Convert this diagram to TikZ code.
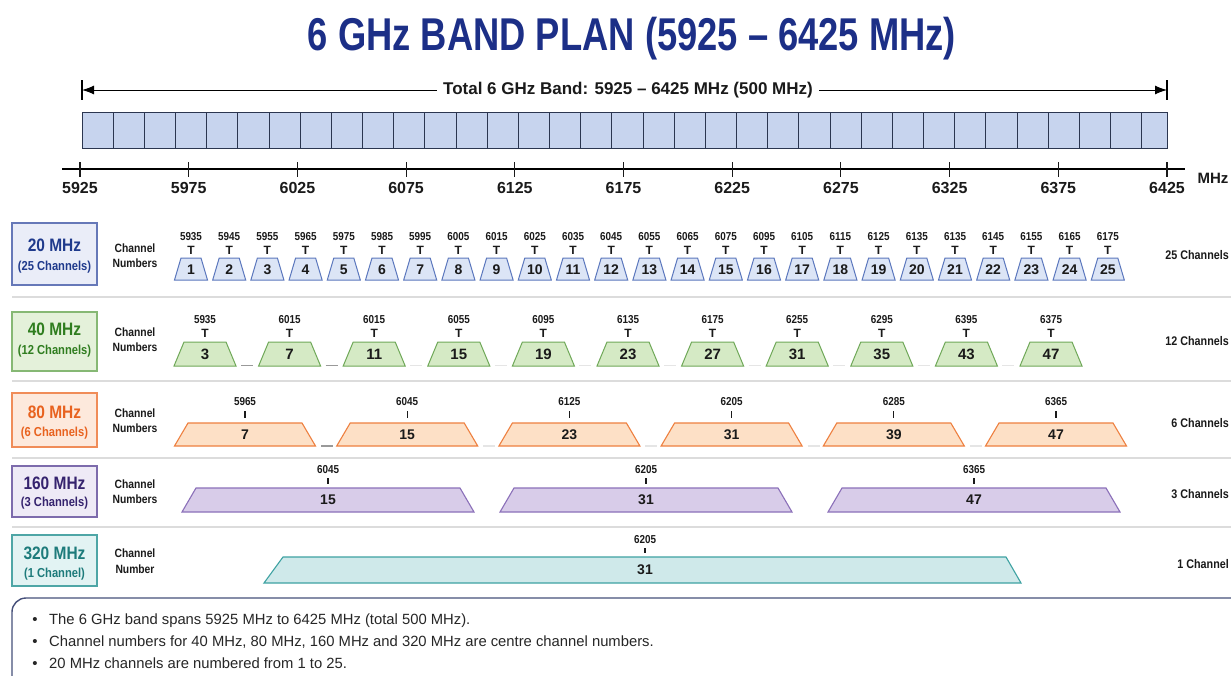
\documentclass[tikz,border=0pt]{standalone}
\usepackage{fontspec}
\setmainfont{Liberation Sans}
\newfontfamily\titlefont[FakeStretch=0.79]{Liberation Sans}
\newfontfamily\cnd[FakeStretch=0.86]{Liberation Sans}
\usetikzlibrary{arrows.meta}
\definecolor{titleblue}{HTML}{1C2F87}
\definecolor{bandfill}{HTML}{C7D4EE}
\definecolor{banddraw}{HTML}{2B3650}
\definecolor{bfA}{HTML}{EAEDF8}\definecolor{bdA}{HTML}{6678B8}\definecolor{txA}{HTML}{1F3A8C}
\definecolor{tfA}{HTML}{DCE5F6}\definecolor{tdA}{HTML}{5B77BD}
\definecolor{bfB}{HTML}{E4F1DA}\definecolor{bdB}{HTML}{86B874}\definecolor{txB}{HTML}{2F7D1F}
\definecolor{tfB}{HTML}{D5EAC5}\definecolor{tdB}{HTML}{6FA858}
\definecolor{bfC}{HTML}{FDE9DC}\definecolor{bdC}{HTML}{F08C58}\definecolor{txC}{HTML}{E8621F}
\definecolor{tfC}{HTML}{FDE0C6}\definecolor{tdC}{HTML}{EE8040}
\definecolor{bfD}{HTML}{EEEAF6}\definecolor{bdD}{HTML}{7D6BAC}\definecolor{txD}{HTML}{35236E}
\definecolor{tfD}{HTML}{D8CCE9}\definecolor{tdD}{HTML}{8B70B9}
\definecolor{bfE}{HTML}{E2F3F3}\definecolor{bdE}{HTML}{4EA6A6}\definecolor{txE}{HTML}{1D7B7B}
\definecolor{tfE}{HTML}{CFE9EA}\definecolor{tdE}{HTML}{3EA2A2}
\definecolor{notesdraw}{HTML}{46507A}
\definecolor{sepgray}{HTML}{DCDCDC}
\definecolor{ink}{HTML}{1A1A1A}
\begin{document}
\begin{tikzpicture}[x=1pt,y=-1pt,
  every node/.style={inner sep=0pt, text=ink},
  bandcell/.style={fill=bandfill, draw=banddraw, line width=0.9pt},
  axistick/.style={line width=1.1pt, draw=ink},
  axislabel/.style={font=\bfseries\fontsize{16}{16}\selectfont},
  sep/.style={draw=sepgray, line width=1.4pt},
  lbox/.style={line width=1.2pt, minimum width=85pt},
  bigtxt/.style={font=\cnd\bfseries\fontsize{18}{18}\selectfont},
  smalltxt/.style={font=\cnd\bfseries\fontsize{13}{13}\selectfont},
  chlabel/.style={font=\cnd\bfseries\fontsize{12}{12}\selectfont},
  rightlabel/.style={font=\cnd\bfseries\fontsize{12.5}{12.5}\selectfont, anchor=east},
  freq/.style={font=\cnd\bfseries\fontsize{11.5}{11.5}\selectfont},
  teemark/.style={font=\bfseries\fontsize{12}{12}\selectfont},
  num/.style={font=\bfseries\fontsize{14}{14}\selectfont},
  numB/.style={font=\bfseries\fontsize{15}{15}\selectfont},
  tickmark/.style={draw=ink, line width=1.1pt},
  gapdark/.style={draw=gray!80, line width=1.3pt},
  gaplight/.style={draw=gray!20, line width=1.3pt},
  trA/.style={fill=tfA, draw=tdA, line width=1pt},
  trB/.style={fill=tfB, draw=tdB, line width=1pt},
  trC/.style={fill=tfC, draw=tdC, line width=1.1pt},
  trD/.style={fill=tfD, draw=tdD, line width=1.1pt},
  trE/.style={fill=tfE, draw=tdE, line width=1.1pt},
  notetxt/.style={font=\fontsize{14.8}{15}\selectfont, anchor=base west, text=black!85},
  bullet/.style={font=\fontsize{15}{15}\selectfont, anchor=base, text=black!85}
]
\clip (0,0) rectangle (1231,675);
\fill[white] (0,0) rectangle (1231,675);

% title
\node[font=\titlefont\bfseries\fontsize{46}{46}\selectfont, text=titleblue, anchor=base] (title) at (632,50) {6 GHz BAND PLAN (5925 – 6425 MHz)};

% total band arrow
\coordinate (tl) at (82,90);
\coordinate (tr) at (1167,90);
\draw[line width=1.1pt] (82,80) -- (82,100);
\draw[line width=1.1pt] (1167,80) -- (1167,100);
\node[font=\bfseries\fontsize{17}{17}\selectfont, fill=white, inner xsep=6pt, inner ysep=2pt] (total) at (628,90) {Total 6 GHz Band: 5925 – 6425 MHz (500 MHz)};
\draw[line width=1pt, -{Latex[length=12pt,width=9pt]}] (total.west) -- (tl);
\draw[line width=1pt, -{Latex[length=12pt,width=9pt]}] (total.east) -- (tr);

% band bar
\foreach \i in {0,...,33} {
  \draw[bandcell] ({82+31.17*\i},112) rectangle ({82+31.17*(\i+1)},148);
}
\draw[bandcell] (1141.8,112) rectangle (1167,148);

% axis
\draw[line width=1.2pt] (62,169) -- (1185,169);
\foreach \f [count=\i from 0] in {5925,5975,...,6425} {
  \pgfmathsetmacro\ax{80+108.7*\i}
  \draw[axistick] (\ax,162) -- (\ax,177);
  \node[axislabel] (ax\i) at (\ax,188) {\f};
}
\node[font=\bfseries\fontsize{15}{15}\selectfont] (mhz) at (1213,178) {MHz};

% separators
\foreach \yy in {297,381,458,527} {
  \draw[sep] (12,\yy) -- (1231,\yy);
}

% ---------- 20 MHz row
\node[lbox, draw=bdA, fill=bfA, minimum height=62pt] (boxA) at (54.5,254) {};
\node[bigtxt, text=txA] (boxAt) at (54.5,245) {20 MHz};
\node[smalltxt, text=txA] (boxAs) at (54.5,267) {(25 Channels)};
\node[chlabel] (chA1) at (135,248) {Channel};
\node[chlabel] (chA2) at (135,263.5) {Numbers};
\node[rightlabel] (rA) at (1229,255) {25 Channels};
\foreach \f [count=\i] in {5935,5945,5955,5965,5975,5985,5995,6005,6015,6025,6035,6045,6055,6065,6075,6095,6105,6115,6125,6135,6135,6145,6155,6165,6175} {
  \pgfmathsetmacro\cx{191+38.2*(\i-1)}
  \draw[trA] ({\cx-16.5},280) -- ({\cx-10},258) -- ({\cx+10},258) -- ({\cx+16.5},280) -- cycle;
  \node[num] (nA\i) at (\cx,269.5) {\i};
  \node[freq] (fA\i) at (\cx,237) {\f};
  \node[teemark] (tA\i) at (\cx,250) {T};
}

% ---------- 40 MHz row
\node[lbox, draw=bdB, fill=bfB, minimum height=59pt] (boxB) at (54.5,341.5) {};
\node[bigtxt, text=txB] (boxBt) at (54.5,329) {40 MHz};
\node[smalltxt, text=txB] (boxBs) at (54.5,351) {(12 Channels)};
\node[chlabel] (chB1) at (135,332) {Channel};
\node[chlabel] (chB2) at (135,347.5) {Numbers};
\node[rightlabel] (rB) at (1229,341) {12 Channels};
\foreach \n/\f [count=\i] in {3/5935,7/6015,11/6015,15/6055,19/6095,23/6135,27/6175,31/6255,35/6295,43/6395,47/6375} {
  \pgfmathsetmacro\cx{205+84.6*(\i-1)}
  \draw[trB] ({\cx-31},366) -- ({\cx-21},342) -- ({\cx+21},342) -- ({\cx+31},366) -- cycle;
  \node[numB] (nB\i) at (\cx,354) {\n};
  \node[freq] (fB\i) at (\cx,320) {\f};
  \node[teemark] (tB\i) at (\cx,333) {T};
}
\foreach \i in {1,...,10} {
  \pgfmathsetmacro\cx{205+84.6*(\i-1)}
  \ifnum\i<3 \draw[gapdark] ({\cx+36},365.5) -- ({\cx+48},365.5);
  \else \draw[gaplight] ({\cx+36},365.5) -- ({\cx+48},365.5); \fi
}

% ---------- 80 MHz row
\node[lbox, draw=bdC, fill=bfC, minimum height=54pt] (boxC) at (54.5,420) {};
\node[bigtxt, text=txC] (boxCt) at (54.5,412) {80 MHz};
\node[smalltxt, text=txC] (boxCs) at (54.5,433) {(6 Channels)};
\node[chlabel] (chC1) at (135,413) {Channel};
\node[chlabel] (chC2) at (135,428.5) {Numbers};
\node[rightlabel] (rC) at (1229,423) {6 Channels};
\foreach \n/\f [count=\i] in {7/5965,15/6045,23/6125,31/6205,39/6285,47/6365} {
  \pgfmathsetmacro\cx{245+162.2*(\i-1)}
  \draw[trC] ({\cx-70.5},446) -- ({\cx-57},423) -- ({\cx+57},423) -- ({\cx+70.5},446) -- cycle;
  \node[num] (nC\i) at (\cx,434.5) {\n};
  \node[freq] (fC\i) at (\cx,402) {\f};
  \draw[tickmark] (\cx,411) -- (\cx,418);
}
\foreach \i in {1,...,5} {
  \pgfmathsetmacro\cx{245+162.2*(\i-1)}
  \ifnum\i<2 \draw[gapdark] ({\cx+76},446) -- ({\cx+88},446);
  \else \draw[gaplight] ({\cx+76},446) -- ({\cx+88},446); \fi
}

% ---------- 160 MHz row
\node[lbox, draw=bdD, fill=bfD, minimum height=51pt] (boxD) at (54.5,491.5) {};
\node[bigtxt, text=txD] (boxDt) at (54.5,483) {160 MHz};
\node[smalltxt, text=txD] (boxDs) at (54.5,503) {(3 Channels)};
\node[chlabel] (chD1) at (135,484) {Channel};
\node[chlabel] (chD2) at (135,499.5) {Numbers};
\node[rightlabel] (rD) at (1229,494) {3 Channels};
\foreach \n/\f/\cx [count=\i] in {15/6045/328,31/6205/646,47/6365/974} {
  \draw[trD] ({\cx-146},512) -- ({\cx-132},488) -- ({\cx+132},488) -- ({\cx+146},512) -- cycle;
  \node[num] (nD\i) at (\cx,500) {\n};
  \node[freq] (fD\i) at (\cx,470) {\f};
  \draw[tickmark] (\cx,478) -- (\cx,484);
}

% ---------- 320 MHz row
\node[lbox, draw=bdE, fill=bfE, minimum height=51pt] (boxE) at (54.5,560.5) {};
\node[bigtxt, text=txE] (boxEt) at (54.5,553) {320 MHz};
\node[smalltxt, text=txE] (boxEs) at (54.5,574) {(1 Channel)};
\node[chlabel] (chE1) at (135,553) {Channel};
\node[chlabel] (chE2) at (135,569.5) {Number};
\node[rightlabel] (rE) at (1229,564) {1 Channel};
\draw[trE] (264,583) -- (283,557) -- (1006,557) -- (1021,583) -- cycle;
\node[num] (nE1) at (645,570) {31};
\node[freq] (fE1) at (645,540) {6205};
\draw[tickmark] (645,548) -- (645,553);

% ---------- notes
\draw[draw=notesdraw, line width=1.4pt, rounded corners=14pt, fill=white] (12,598) rectangle (1260,700);
\node[bullet] (b1) at (35,624) {•};
\node[bullet] (b2) at (35,646) {•};
\node[bullet] (b3) at (35,668) {•};
\node[notetxt] (n1) at (49,624) {The 6 GHz band spans 5925 MHz to 6425 MHz (total 500 MHz).};
\node[notetxt] (n2) at (49,646) {Channel numbers for 40 MHz, 80 MHz, 160 MHz and 320 MHz are centre channel numbers.};
\node[notetxt] (n3) at (49,668) {20 MHz channels are numbered from 1 to 25.};
\end{tikzpicture}
\end{document}
